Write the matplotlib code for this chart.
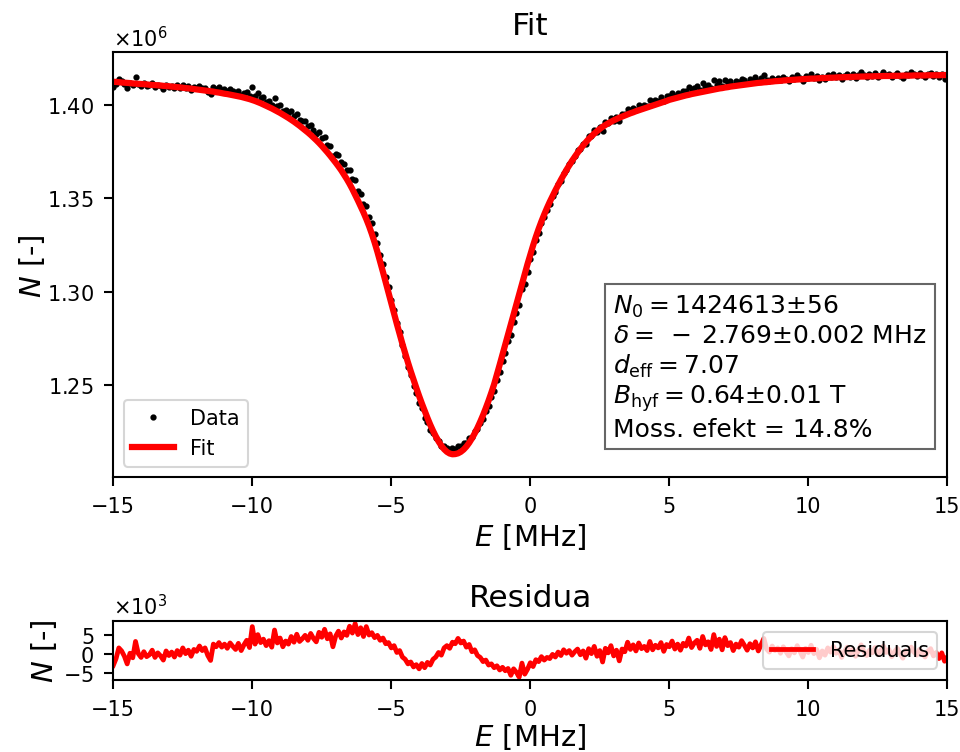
import numpy as np
import matplotlib.pyplot as plt

# energy channels (MHz), 0.1 MHz step
E = np.linspace(-15, 15, 301)

# fitted curve, units of 1e6 counts (one row per MHz)
fit_vals = [
    1.4126, 1.4125, 1.4124, 1.4122, 1.4121, 1.4120, 1.4119, 1.4117, 1.4116, 1.4115,
    1.4114, 1.4113, 1.4112, 1.4110, 1.4109, 1.4108, 1.4107, 1.4106, 1.4104, 1.4103,
    1.4102, 1.4100, 1.4099, 1.4097, 1.4096, 1.4094, 1.4092, 1.4091, 1.4089, 1.4087,
    1.4085, 1.4083, 1.4081, 1.4079, 1.4077, 1.4075, 1.4073, 1.4070, 1.4068, 1.4065,
    1.4062, 1.4060, 1.4057, 1.4054, 1.4051, 1.4048, 1.4045, 1.4041, 1.4037, 1.4033,
    1.4028, 1.4023, 1.4017, 1.4011, 1.4004, 1.3997, 1.3990, 1.3983, 1.3975, 1.3967,
    1.3959, 1.3950, 1.3941, 1.3932, 1.3922, 1.3912, 1.3901, 1.3890, 1.3878, 1.3866,
    1.3854, 1.3841, 1.3827, 1.3813, 1.3798, 1.3782, 1.3765, 1.3748, 1.3730, 1.3711,
    1.3692, 1.3672, 1.3651, 1.3628, 1.3604, 1.3578, 1.3550, 1.3520, 1.3489, 1.3457,
    1.3425, 1.3390, 1.3352, 1.3310, 1.3264, 1.3214, 1.3161, 1.3106, 1.3050, 1.2994,
    1.2938, 1.2882, 1.2827, 1.2773, 1.2720, 1.2669, 1.2620, 1.2573, 1.2528, 1.2484,
    1.2441, 1.2400, 1.2361, 1.2323, 1.2287, 1.2254, 1.2224, 1.2197, 1.2174, 1.2155,
    1.2141, 1.2132, 1.2128, 1.2129, 1.2133, 1.2141, 1.2153, 1.2169, 1.2189, 1.2213,
    1.2240, 1.2270, 1.2303, 1.2338, 1.2376, 1.2416, 1.2459, 1.2504, 1.2556, 1.2609,
    1.2663, 1.2717, 1.2771, 1.2825, 1.2879, 1.2933, 1.2987, 1.3041, 1.3095, 1.3148,
    1.3199, 1.3248, 1.3294, 1.3337, 1.3377, 1.3414, 1.3449, 1.3482, 1.3513, 1.3543,
    1.3572, 1.3600, 1.3627, 1.3653, 1.3678, 1.3702, 1.3724, 1.3745, 1.3765, 1.3784,
    1.3802, 1.3819, 1.3834, 1.3848, 1.3861, 1.3873, 1.3884, 1.3894, 1.3903, 1.3911,
    1.3919, 1.3926, 1.3933, 1.3939, 1.3945, 1.3951, 1.3957, 1.3962, 1.3968, 1.3973,
    1.3978, 1.3983, 1.3988, 1.3993, 1.3998, 1.4003, 1.4008, 1.4013, 1.4018, 1.4023,
    1.4029, 1.4033, 1.4037, 1.4041, 1.4045, 1.4049, 1.4053, 1.4056, 1.4060, 1.4063,
    1.4066, 1.4069, 1.4072, 1.4075, 1.4078, 1.4081, 1.4084, 1.4087, 1.4090, 1.4092,
    1.4095, 1.4097, 1.4100, 1.4102, 1.4104, 1.4106, 1.4108, 1.4110, 1.4112, 1.4114,
    1.4116, 1.4118, 1.4120, 1.4121, 1.4123, 1.4124, 1.4126, 1.4127, 1.4129, 1.4130,
    1.4131, 1.4133, 1.4134, 1.4135, 1.4136, 1.4137, 1.4138, 1.4139, 1.4140, 1.4141,
    1.4142, 1.4143, 1.4143, 1.4144, 1.4145, 1.4146, 1.4146, 1.4147, 1.4148, 1.4148,
    1.4149, 1.4150, 1.4150, 1.4151, 1.4151, 1.4152, 1.4152, 1.4153, 1.4153, 1.4154,
    1.4154, 1.4155, 1.4155, 1.4155, 1.4156, 1.4156, 1.4156, 1.4157, 1.4157, 1.4157,
    1.4158, 1.4158, 1.4158, 1.4158, 1.4159, 1.4159, 1.4159, 1.4159, 1.4160, 1.4160,
    1.4160, 1.4160, 1.4160, 1.4161, 1.4161, 1.4161, 1.4161, 1.4161, 1.4162, 1.4162,
    1.4162,
]

# residuals data - fit, units of 1e3 counts
resid_vals = [
    -3.0, -1.2, 1.6, 0.8, -0.6, -2.6, 0.2, -1.0, 3.3, 0.1,
    -0.9, 0.6, -0.7, -0.2, 1.0, -0.9, 0.3, -0.5, -1.6, 0.8,
    -0.4, 0.5, -0.8, 0.9, -0.3, 1.6, 0.1, 1.0, -0.6, 1.2,
    0.7, 2.1, 0.9, 1.6, -0.4, -1.7, 2.6, 1.9, 3.0, 1.8,
    2.6, 1.5, 2.9, 2.0, 1.2, 2.8, 0.9, 2.4, 3.6, 1.7,
    7.2, 2.6, 5.1, 3.0, 3.9, 2.2, 3.5, 1.8, 6.3, 2.9,
    4.2, 1.9, 3.4, 2.6, 4.6, 3.1, 5.2, 3.3, 4.0, 4.9,
    3.6, 5.4, 4.1, 3.2, 5.7, 4.4, 6.5, 4.0, 5.3, 1.9,
    4.7, 6.0, 4.2, 5.8, 4.9, 7.3, 5.5, 8.0, 5.1, 6.9,
    4.6, 7.2, 5.0, 5.6, 4.3, 4.9, 3.6, 4.2, 2.7, 3.0,
    1.6, 2.2, 0.4, 0.9, -0.8, -1.4, -2.6, -2.1, -3.4, -2.8,
    -3.9, -2.5, -3.6, -2.2, -2.9, -1.4, -0.8, 0.4, -0.3, 1.6,
    2.2, 1.5, 3.1, 2.7, 4.1, 2.9, 3.4, 1.8, 2.5, 0.6,
    1.1, -0.4, -0.9, -2.0, -1.6, -2.9, -2.6, -3.6, -3.1, -4.2,
    -3.5, -4.4, -3.8, -5.6, -3.9, -4.8, -6.1, -2.4, -5.3, -4.0,
    -2.3, -3.3, -1.5, -2.0, -0.7, -1.6, -0.9, -1.2, -0.1, -0.8,
    0.5, -0.4, 1.1, 0.2, 0.9, -0.3, 0.6, 1.3, -0.2, 0.8,
    -1.1, 1.4, 0.1, 2.0, -0.6, 0.9, -2.1, 1.5, 0.3, 2.2,
    -0.5, 1.0, -1.8, 1.3, 0.6, 3.1, 1.2, 2.4, 0.8, 2.9,
    1.4, 2.0, 0.9, 3.3, 1.1, 2.3, 1.6, 3.0, 0.7, 2.5,
    1.9, 3.4, 1.3, 2.6, 1.0, 2.8, 2.1, 4.2, 1.7, 2.9,
    3.6, 1.5, 4.6, 2.4, 3.2, 1.2, 5.1, 2.0, 3.9, 1.1,
    4.3, 2.2, 3.0, 0.9, 2.6, 1.8, 3.5, 2.3, 1.0, 2.7,
    1.6, 3.2, 0.8, 2.4, 4.1, 1.3, 0.5, 2.1, 0.9, 1.6,
    0.2, 1.9, 0.6, -0.5, 1.4, 0.3, 2.2, 0.7, -0.8, 1.5,
    0.4, 2.3, 0.1, 1.2, -1.0, 0.8, -0.3, 1.6, 0.5, 2.0,
    0.2, 1.1, -0.9, 0.7, 1.8, 0.0, 1.3, -0.6, 0.9, 2.4,
    0.6, -0.4, 1.0, 0.3, 1.7, -0.2, 0.8, 2.1, 0.4, 1.2,
    -0.7, 0.6, 1.5, 0.1, -1.1, 0.9, 0.3, 1.8, 0.5, -0.3,
    1.2, 0.2, -0.8, 0.7, 1.4, -0.5, 0.4, -1.2, 0.3, -1.9,
    -0.8,
]

fit_N = np.array(fit_vals) * 1e6
resid = np.array(resid_vals) * 1e3
data_N = fit_N + resid

info = ("$N_0 = 1424613$±56\n"
        "$\\delta = \\;-\\:2.769$±0.002 MHz\n"
        "$d_{\\rm eff} = 7.07$\n"
        "$B_{\\rm hyf} = 0.64$±0.01 T\n"
        "Moss. efekt = 14.8%")

plt.rcParams['axes.linewidth'] = 1.0
plt.rcParams['xtick.major.size'] = 4.3
plt.rcParams['ytick.major.size'] = 4.3
plt.rcParams['xtick.major.width'] = 1.0
plt.rcParams['ytick.major.width'] = 1.0
plt.rcParams['xtick.major.pad'] = 5
plt.rcParams['ytick.major.pad'] = 5

fig = plt.figure(figsize=(6.4, 5.02), dpi=150)

ax = fig.add_axes([0.118, 0.3652, 0.8688, 0.564])
ax.plot(E, data_N, '.', color='black', ms=4, label='Data')
ax.plot(E, fit_N, color='red', lw=3, label='Fit')
ax.set_xlim(-15, 15)
ax.set_ylim(1.2006e6, 1.4284e6)
ax.ticklabel_format(axis='y', style='sci', scilimits=(0, 0), useMathText=True)
ax.set_title('Fit', fontsize=15, pad=9)
ax.set_xlabel('$E$ [MHz]', fontsize=14, labelpad=2)
ax.set_ylabel('$N$ [-]', fontsize=14, labelpad=0)
ax.legend(loc='lower left')
ax.text(0.599, 0.433, info, transform=ax.transAxes, fontsize=12, va='top',
        bbox=dict(facecolor='white', edgecolor='0.4'))

ax2 = fig.add_axes([0.118, 0.096, 0.8688, 0.0784])
ax2.plot(E, resid, color='red', lw=2.3, label='Residuals')
ax2.set_xlim(-15, 15)
ax2.set_ylim(-6.76e3, 8.76e3)
ax2.ticklabel_format(axis='y', style='sci', scilimits=(0, 0), useMathText=True)
ax2.set_title('Residua', fontsize=15, pad=7)
ax2.set_xlabel('$E$ [MHz]', fontsize=14, labelpad=1)
ax2.set_ylabel('$N$ [-]', fontsize=14, labelpad=2)
ax2.legend(loc='center right')

fig.savefig('out.png', dpi=150)
